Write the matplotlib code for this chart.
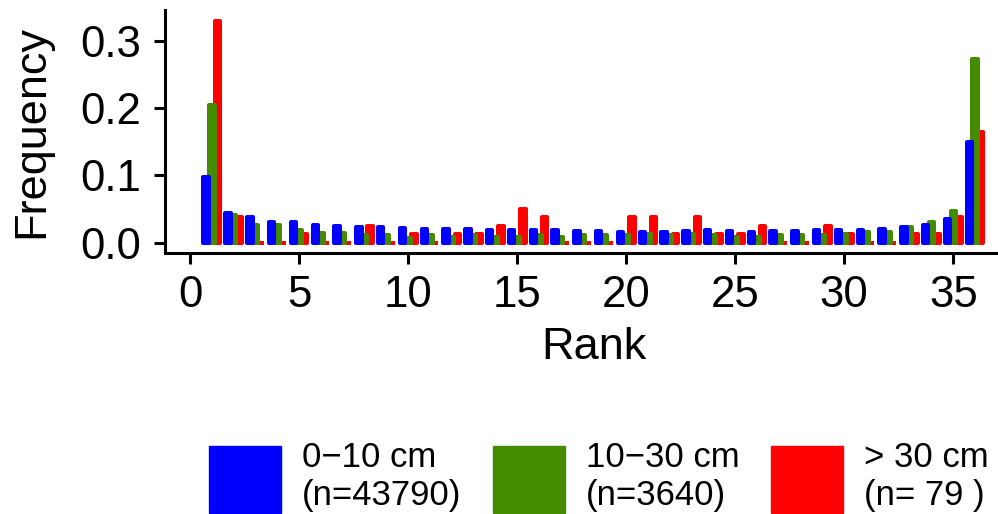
import numpy as np
from matplotlib import pyplot as plt
from matplotlib.patches import Patch

plt.rcParams['font.family'] = ['Liberation Sans', 'DejaVu Sans']

# rank histogram values
rank = np.arange(1, 37)
blue_freq = [0.098, 0.0445, 0.0377, 0.0307, 0.0307, 0.0258, 0.0248, 0.0233, 0.0233,
             0.0223, 0.0208, 0.0208, 0.0208, 0.0184, 0.0184, 0.0184, 0.0184, 0.0174,
             0.0174, 0.016, 0.016, 0.016, 0.0174, 0.0184, 0.0169, 0.016, 0.0169,
             0.0169, 0.0184, 0.0184, 0.0184, 0.0208, 0.0233, 0.0267, 0.0356, 0.1494]
green_freq = [0.2043, 0.0415, 0.0258, 0.0258, 0.0184, 0.0148, 0.0148, 0.011, 0.011,
              0.007, 0.011, 0.0085, 0.011, 0.0085, 0.0085, 0.011, 0.0085, 0.011,
              0.011, 0.011, 0.0134, 0.011, 0.013, 0.011, 0.0085, 0.0085, 0.011,
              0.011, 0.011, 0.013, 0.016, 0.016, 0.0233, 0.0307, 0.0466, 0.272]
red_counts = [26, 3, 0, 0, 1, 0, 0, 2, 0, 1, 0, 1, 1, 2, 4, 3, 0, 0,
              0, 3, 3, 1, 3, 1, 1, 2, 0, 0, 2, 1, 0, 0, 1, 1, 3, 13]
red_freq = np.array(red_counts) / 79.0

labels = ["0\u221210 cm\n(n=43790)", "10\u221230 cm\n(n=3640)", "> 30 cm\n(n= 79 )"]
colors = ["#0000ff", "#458b00", "#ff0000"]

fig = plt.figure(figsize=(9.98, 5.14), dpi=100)
W, H = 998.0, 514.0
# panel runs a bit past the right edge, like the original
ax = fig.add_axes([165 / W, 1 - 253 / H, (1023 - 165) / W, (253 - 10) / H])

series = [blue_freq, green_freq, red_freq]
offsets = [-0.26, 0.0, 0.26]
zs = [4, 3, 2]
for vals, c, off, z in zip(series, colors, offsets, zs):
    ax.bar(rank + off, vals, width=0.25, color=c, edgecolor=c, linewidth=2.9,
           joinstyle='round', zorder=z)

ax.set_xlim(-1.15, 38.2)
ax.set_ylim(-0.0153, 0.3453)
ax.set_xticks([0, 5, 10, 15, 20, 25, 30, 35])
ax.set_yticks([0.0, 0.1, 0.2, 0.3])
ax.set_yticklabels(["0.0", "0.1", "0.2", "0.3"])

for s in ['top', 'right']:
    ax.spines[s].set_visible(False)
for s in ['left', 'bottom']:
    ax.spines[s].set_linewidth(2.2)
ax.tick_params(axis='both', length=8, width=2.2, labelsize=31.5, colors='black')
ax.tick_params(axis='y', pad=9.5)
ax.tick_params(axis='x', pad=7.5)

ax.set_xlabel("Rank", fontsize=32.5, labelpad=8.5)
ax.set_ylabel("Frequency", fontsize=32.5, labelpad=20)

handles = [Patch(facecolor=c, edgecolor=c) for c in colors]
fig.legend(handles, labels, loc='center', bbox_to_anchor=(599 / W, 1 - 477 / H),
           ncol=3, frameon=False, fontsize=25, handlelength=2.07, handleheight=2.6,
           handletextpad=0.6, columnspacing=0.92, borderpad=0, labelspacing=0)

fig.savefig("out.png", dpi=100)
